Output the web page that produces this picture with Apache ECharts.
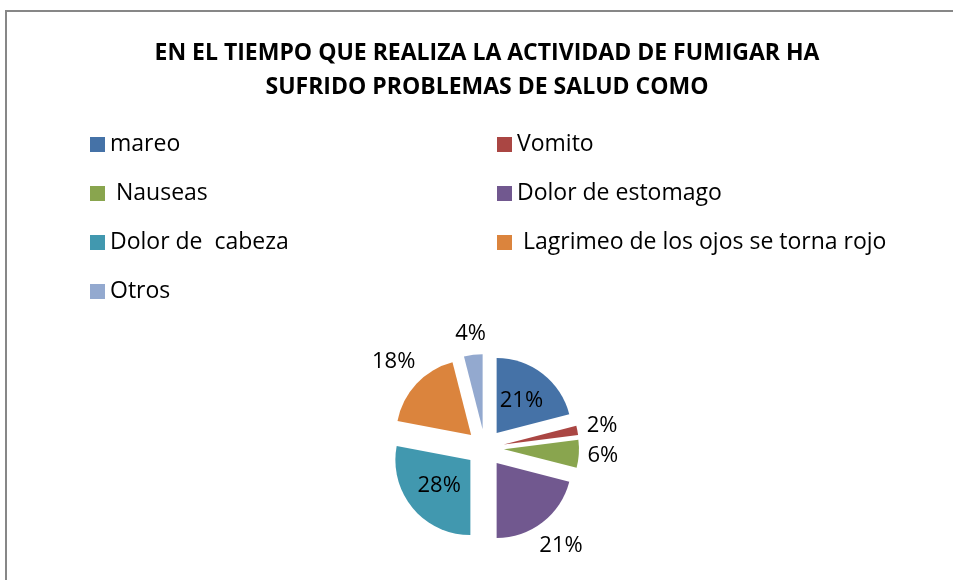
<!DOCTYPE html>
<html>
<head>
<meta charset="utf-8">
<script src="https://cdn.jsdelivr.net/npm/echarts@6/dist/echarts.min.js"></script>
<style>
  html, body { margin: 0; padding: 0; background: #fff; }
  #chart { width: 953px; height: 580px; }
</style>
</head>
<body>
<div id="chart"></div>
<script>
// Datos (porcentajes)
const categories = ["mareo", "Vomito", " Nauseas", "Dolor de estomago", "Dolor de  cabeza", " Lagrimeo de los ojos se torna rojo", "Otros"];
const values = [21, 2, 6, 21, 28, 18, 4];
const colors = ["#4572A7", "#AA4643", "#89A54E", "#71588F", "#4198AF", "#DB843D", "#93A9CF"];
const insideLabels = ["mareo", "Dolor de  cabeza"];
const leftLegend = ["mareo", " Nauseas", "Dolor de  cabeza", "Otros"];
const rightLegend = ["Vomito", "Dolor de estomago", " Lagrimeo de los ojos se torna rojo"];

const FONT = "'Open Sans', Lato, sans-serif";
const PIE_CENTER = [485, 448];
const PIE_RADIUS = 75;
const SLICE_OFFSET = 19;
const LABEL_GAP = 8;

const chart = echarts.init(document.getElementById("chart"));

function legendBlock(names, left) {
  return {
    data: names,
    orient: "vertical",
    left: left,
    top: 133,
    padding: 0,
    itemWidth: 15,
    itemHeight: 15,
    itemGap: 26,
    icon: "rect",
    selectedMode: false,
    textStyle: { fontFamily: FONT, fontSize: 23, color: "#000", lineHeight: 22 }
  };
}

// Etiquetas exteriores centradas sobre la bisectriz de cada porcion (como Excel).
// labelRect no incluye el desplazamiento de la porcion (la etiqueta ya lo lleva).
function placeLabel(params) {
  const i = params.dataIndex;
  if (insideLabels.includes(categories[i])) return {};
  const total = values.reduce((a, b) => a + b, 0);
  const before = values.slice(0, i).reduce((a, b) => a + b, 0);
  const mid = (before + values[i] / 2) / total * Math.PI * 2;
  const ux = Math.sin(mid), uy = -Math.cos(mid);
  const r = params.labelRect;
  const off = PIE_RADIUS + LABEL_GAP + Math.abs(ux) * r.width / 2 + Math.abs(uy) * r.height / 2;
  const tx = PIE_CENTER[0] + ux * off;
  const ty = PIE_CENTER[1] + uy * off;
  return {
    dx: tx - (r.x + r.width / 2),
    dy: ty - (r.y + r.height / 2)
  };
}

chart.setOption({
  animation: false,
  color: colors,
  title: {
    text: "EN EL TIEMPO QUE REALIZA LA ACTIVIDAD DE FUMIGAR HA\nSUFRIDO PROBLEMAS DE SALUD COMO",
    left: 487,
    top: 36,
    textAlign: "center",
    padding: 0,
    textStyle: { fontFamily: FONT, fontSize: 23, fontWeight: "bold", color: "#000", lineHeight: 34 }
  },
  legend: [legendBlock(leftLegend, 90), legendBlock(rightLegend, 497)],
  graphic: [{
    type: "rect",
    shape: { x: 6, y: 11, width: 1000, height: 1000 },
    style: { fill: "none", stroke: "#878787", lineWidth: 2 },
    silent: true
  }],
  series: [{
    type: "pie",
    center: PIE_CENTER,
    radius: PIE_RADIUS,
    startAngle: 90,
    clockwise: true,
    selectedMode: "multiple",
    selectedOffset: SLICE_OFFSET,
    avoidLabelOverlap: false,
    emphasis: { disabled: true },
    labelLine: { show: false, length: 10, length2: 0 },
    label: {
      formatter: "{d}%",
      fontFamily: FONT,
      fontSize: 22,
      color: "#000"
    },
    labelLayout: placeLabel,
    data: categories.map((c, i) => ({
      name: c,
      value: values[i],
      selected: true,
      label: { position: insideLabels.includes(c) ? "inside" : "outside" }
    }))
  }]
});
</script>
</body>
</html>
